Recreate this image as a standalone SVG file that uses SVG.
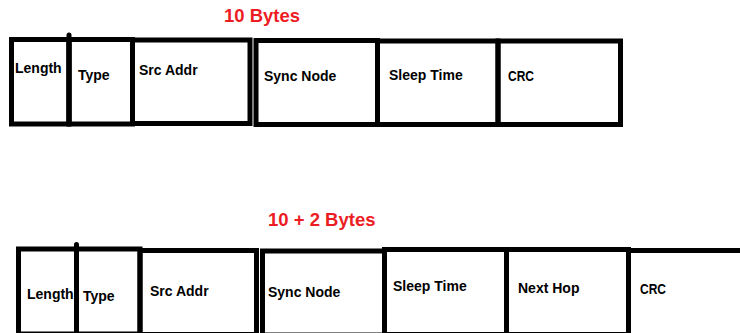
<svg xmlns="http://www.w3.org/2000/svg" width="740" height="333" viewBox="0 0 740 333">
<style>
.box{fill:none;stroke:#000;stroke-width:5}
.div{stroke:#000;stroke-width:5;stroke-linecap:round}
.lbl{font-family:"Liberation Sans",Arial,sans-serif;font-weight:bold;font-size:14px;fill:#000}
.ttl{font-family:"Liberation Sans",Arial,sans-serif;font-weight:bold;font-size:18.5px;fill:#ED1C24}
</style>
<rect width="740" height="333" fill="#fff"/>
<text class="ttl" x="224" y="21.5">10 Bytes</text>
<text class="ttl" x="268" y="225.5">10 + 2 Bytes</text>
<g id="row1">
<g id="r1-length"><rect class="box" x="11.5" y="39.5" width="57.5" height="84.5"/><text class="lbl" x="15" y="73">Length</text></g>
<g id="r1-type"><rect class="box" x="69" y="39.5" width="63.5" height="84.5"/><line class="div" x1="69" y1="35" x2="69" y2="124"/><text class="lbl" x="78" y="80">Type</text></g>
<g id="r1-src"><rect class="box" x="132.5" y="40" width="117.5" height="83.5"/><text class="lbl" x="139" y="75">Src Addr</text></g>
<g id="r1-sync"><rect class="box" x="256" y="40.5" width="121.5" height="84"/><text class="lbl" x="264" y="81">Sync Node</text></g>
<g id="r1-sleep"><rect class="box" x="377.5" y="41" width="120.5" height="83.5"/><text class="lbl" x="389" y="80">Sleep Time</text></g>
<g id="r1-crc"><rect class="box" x="498" y="41" width="122.5" height="83.5"/><text class="lbl" x="508" y="81" textLength="26" lengthAdjust="spacingAndGlyphs">CRC</text></g>
</g>
<g id="row2">
<g id="r2-length"><rect class="box" x="18.5" y="249" width="58" height="85"/><text class="lbl" x="27" y="299">Length</text></g>
<g id="r2-type"><rect class="box" x="76.5" y="249" width="63.5" height="85"/><line class="div" x1="76.5" y1="244.5" x2="76.5" y2="334"/><text class="lbl" x="83" y="301">Type</text></g>
<g id="r2-src"><rect class="box" x="140" y="250.5" width="116.5" height="84"/><text class="lbl" x="150" y="296">Src Addr</text></g>
<g id="r2-sync"><rect class="box" x="262.5" y="251" width="122" height="84"/><text class="lbl" x="268" y="297">Sync Node</text></g>
<g id="r2-sleep"><rect class="box" x="384.5" y="249.5" width="122" height="85"/><text class="lbl" x="393" y="291">Sleep Time</text></g>
<g id="r2-nexthop"><rect class="box" x="506.5" y="249.5" width="122" height="85"/><text class="lbl" x="518" y="293">Next Hop</text></g>
<g id="r2-crc"><rect class="box" x="628.5" y="250.5" width="125" height="85"/><text class="lbl" x="640" y="294" textLength="26" lengthAdjust="spacingAndGlyphs">CRC</text></g>
</g>
<g id="connectors"/>
</svg>
